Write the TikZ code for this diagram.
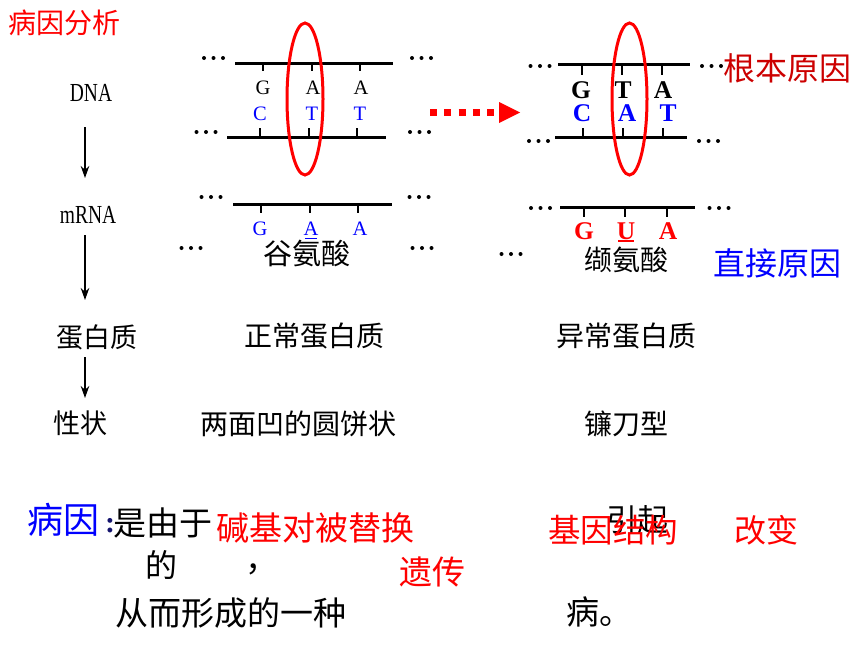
\documentclass[tikz,border=0pt]{standalone}
\usepackage{fontspec}
\setmainfont{Liberation Serif}
\newfontfamily\cjk{Noto Sans CJK SC}
\usetikzlibrary{arrows.meta}
\definecolor{dred}{RGB}{204,0,0}
\definecolor{pblue}{RGB}{0,0,255}
\definecolor{pred}{RGB}{255,0,0}
\definecolor{navy}{RGB}{20,20,110}
\tikzset{
  cn/.style={inner sep=0pt, font=\cjk\fontsize{#1}{#1}\selectfont},
  lt/.style={inner sep=0pt, font=\fontsize{20.5}{20.5}\selectfont},
  bt/.style={inner sep=0pt, font=\bfseries\fontsize{25.5}{25.5}\selectfont},
  lab/.style={inner sep=0pt, font=\fontsize{26}{26}\selectfont},
  strand/.style={line width=3pt},
  tick/.style={line width=2.5pt},
  flow/.style={line width=2.2pt, -{Stealth[length=12pt,width=8.5pt]}},
  oval/.style={pred, line width=3pt},
  ell/.pic={\fill (-9.5,0) circle (2pt) (0,0) circle (2pt) (9.5,0) circle (2pt);}
}
\begin{document}
\begin{tikzpicture}[x=1pt,y=-1pt]
\useasboundingbox (0,0) rectangle (860,645);

% title
\node[cn=28, text=pred] (title) at (65,23) {病因分析};

% left column
\node[lab] (dna) at (91,93) {\scalebox{0.75}[1]{DNA}};
\node[lab] (mrna) at (88,215) {\scalebox{0.75}[1]{mRNA}};
\node[cn=27] (prot) at (97,337) {蛋白质};
\node[cn=27] (trait) at (80.5,423) {性状};
\coordinate (a1s) at (85,127); \coordinate (a1e) at (85,178);
\coordinate (a2s) at (85,235); \coordinate (a2e) at (85,300);
\coordinate (a3s) at (85,357); \coordinate (a3e) at (85,398);
\draw[flow] (a1s) -- (a1e);
\draw[flow] (a2s) -- (a2e);
\draw[flow] (a3s) -- (a3e);

% ---------- left (normal) DNA ----------
\draw[strand] (235,63) -- (393,63);
\foreach \x in {263,312,360} \draw[tick] (\x,63) -- (\x,71);
\draw[strand] (227,137) -- (386,137);
\foreach \x in {260,309,357} \draw[tick] (\x,137) -- (\x,128);
\node[lt] (lg1) at (263,88) {G};
\node[lt] (la1) at (313,88) {A};
\node[lt] (la2) at (361,88) {A};
\node[lt, text=pblue] (lc1) at (260,114) {C};
\node[lt, text=pblue] (lt1) at (312,114) {T};
\node[lt, text=pblue] (lt2) at (360,114) {T};
\draw[strand] (233,204) -- (392,204);
\foreach \x in {261,310,358} \draw[tick] (\x,204) -- (\x,213);
\node[lt, text=pblue] (lmg) at (260,229) {G};
\node[lt, text=pblue] (lma) at (311,229) {A};
\node[lt, text=pblue] (lma2) at (360,229) {A};
\draw[pblue, line width=1.2pt] (305,238.5) -- (317,238.5);
\draw[oval] (305,99) ellipse (18pt and 76pt);
\node[cn=29] (glu) at (306.5,253) {谷氨酸};
\pic at (213.5,58) {ell}; \pic at (421.5,58) {ell};
\pic at (206,132) {ell};  \pic at (419.5,132) {ell};
\pic at (211,197) {ell};  \pic at (419,197) {ell};
\pic at (191,248) {ell};  \pic at (422,248) {ell};

% dotted arrow
\coordinate (ra1) at (430,112.5); \coordinate (ra2) at (494,112.5);
\draw[pred, line width=7pt, dash pattern=on 7pt off 7.25pt] (ra1) -- (ra2);
\fill[pred] (499,102) -- (520,112.5) -- (499,123) -- cycle;

% ---------- right (mutant) DNA ----------
\draw[strand] (558,64) -- (690,64);
\foreach \x in {582,622,662} \draw[tick] (\x,64) -- (\x,75);
\draw[strand] (555,137) -- (687,137);
\foreach \x in {583,623,663} \draw[tick] (\x,137) -- (\x,128);
\node[bt] (rg1) at (581,90) {G};
\node[bt] (rt1) at (623,90) {T};
\node[bt] (ra3) at (663,90) {A};
\node[bt, text=pblue] (rc1) at (582,113) {C};
\node[bt, text=pblue] (ra4) at (627,113) {A};
\node[bt, text=pblue] (rt2) at (668,113) {T};
\draw[strand] (560,207) -- (695,207);
\foreach \x in {584,625,667} \draw[tick] (\x,207) -- (\x,217);
\node[bt, text=pred] (rmg) at (584,231) {G};
\node[bt, text=pred] (rmu) at (626,231) {U};
\node[bt, text=pred] (rma) at (668,231) {A};
\draw[pred, line width=1.5pt] (618,241) -- (634,241);
\draw[oval] (629.5,99) ellipse (17.5pt and 76pt);
\node[cn=28] (val) at (626.5,260) {缬氨酸};
\pic at (540,66) {ell};   \pic at (711.5,66) {ell};
\pic at (538.5,141) {ell}; \pic at (708.5,141) {ell};
\pic at (540.5,208) {ell}; \pic at (719,208) {ell};
\pic at (511,254) {ell};

\node[cn=32, text=dred] (root) at (787,68) {根本原因};
\node[cn=32, text=pblue] (direct) at (777,263) {直接原因};

% proteins and traits
\node[cn=28] (np) at (314,336) {正常蛋白质};
\node[cn=28] (ap) at (626,336) {异常蛋白质};
\node[cn=28] (disc) at (298,424) {两面凹的圆饼状};
\node[cn=28] (sick) at (626.5,424) {镰刀型};

% bottom sentence
\node[cn=36, text=pblue] (cause) at (63.5,520) {病因};
\node[inner sep=0pt, font=\bfseries\fontsize{30}{30}\selectfont, text=navy] (colon) at (110,526) {:};
\node[cn=33] (s1) at (163,523) {是由于};
\node[cn=33, text=pred] (f1) at (315.5,528) {碱基对被替换};
\node[cn=31] (s2) at (637.5,520) {引起};
\node[cn=32.5, text=pred] (f2) at (613,530) {基因结构};
\node[cn=32, text=pred] (f3) at (766.5,530) {改变};
\node[cn=32] (s3) at (161,565) {的};
\node[cn=33, anchor=west] (s4) at (245,569) {，};
\node[cn=33, text=pred] (f4) at (432.5,572) {遗传};
\node[cn=33] (s5) at (231,613) {从而形成的一种};
\node[cn=33, anchor=west] (s6) at (566,612) {病。};
\end{tikzpicture}
\end{document}
